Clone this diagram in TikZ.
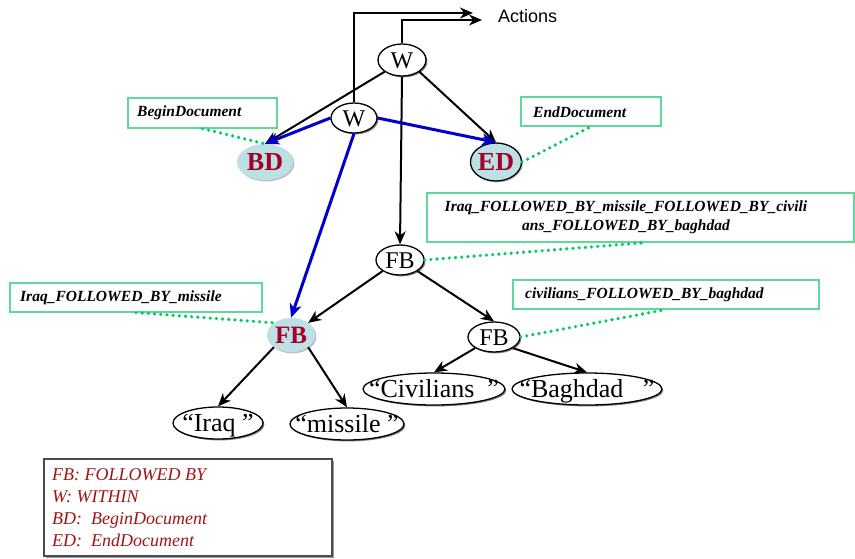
\documentclass[tikz,border=0pt]{standalone}
\usepackage{fontspec}
\setmainfont{Liberation Serif}
\newfontfamily\actfont{Liberation Sans}
\usetikzlibrary{shapes.geometric,arrows.meta,shadows,calc}
\definecolor{lblgreen}{HTML}{5FD99A}
\definecolor{dotgreen}{HTML}{00CC66}
\definecolor{tagfill}{HTML}{BCE0E3}
\definecolor{tagred}{HTML}{A3002B}
\definecolor{legred}{HTML}{A01515}
\definecolor{linkblue}{HTML}{0000CC}

\begin{document}
\begin{tikzpicture}[x=1pt,y=-1pt,
  % operator ellipses (W, FB)
  opnode/.style={ellipse, draw=black, line width=1.3pt, fill=white, inner sep=0pt,
    text height=16pt, text depth=0pt,
    font=\fontsize{24}{24}\selectfont,
    drop shadow={shadow xshift=1.4pt, shadow yshift=-1.4pt, fill=black!50, opacity=1}},
  % document markers and the highlighted FB
  tagnode/.style={ellipse, fill=tagfill, inner sep=0pt, text=tagred,
    text height=17pt, text depth=0pt,
    font=\fontsize{26}{26}\selectfont\bfseries,
    drop shadow={shadow xshift=1.4pt, shadow yshift=-1.4pt, fill=black!25, opacity=1}},
  % quoted terms
  termnode/.style={ellipse, draw=black, line width=1.3pt, fill=white, inner sep=0pt,
    text height=17pt, text depth=0pt,
    font=\fontsize{26}{26}\selectfont,
    drop shadow={shadow xshift=1.4pt, shadow yshift=-1.4pt, fill=black!50, opacity=1}},
  lbox/.style={rectangle, draw=lblgreen, line width=1.1pt, inner sep=0pt},
  ltext/.style={inner sep=0pt, font=\fontsize{15.5}{19}\selectfont\bfseries\itshape},
  arr/.style={draw=black, line width=2pt, -{Stealth[length=13pt,width=11pt,inset=4pt]}},
  barr/.style={draw=linkblue, line width=3pt, -{Stealth[length=14pt,width=12pt,inset=4pt]}},
  dotlink/.style={draw=dotgreen, line width=3.6pt, line cap=round, dash pattern=on 0pt off 6.2pt},
]
\useasboundingbox (0,0) rectangle (855,558);

% operators
\node[opnode, minimum width=48, minimum height=32] (wt) at (402,60) {W};
\node[opnode, minimum width=46, minimum height=30] (w2) at (354,118) {W};
\node[opnode, minimum width=48, minimum height=30] (fbm) at (400,260) {FB};
\node[opnode, minimum width=52, minimum height=30] (fbr) at (494,337) {FB};

% document markers
\node[tagnode, minimum width=56, minimum height=36] (bd) at (265,162) {BD};
\node[tagnode, draw=black, line width=1.3pt, minimum width=48, minimum height=38] (ed) at (496,162) {ED};
\node[tagnode, minimum width=48, minimum height=34, font=\fontsize{25}{25}\selectfont\bfseries] (fbl) at (291,335) {FB};

% terms
\node[termnode, minimum width=142, minimum height=32] (civ) at (434,389) {\makebox[0pt]{“Civilians\ \ ”}};
\node[termnode, minimum width=150, minimum height=32] (bag) at (587,389) {\makebox[0pt]{“Baghdad\ \ \ ”}};
\node[termnode, minimum width=90, minimum height=32] (iraq) at (218,423) {\makebox[0pt]{“Iraq\ ”}};
\node[termnode, minimum width=114, minimum height=32] (mis) at (347,424) {\makebox[0pt]{“missile\ ”}};

% actions output
\coordinate (a1) at (482,20);
\coordinate (a2) at (473,13);
\node[anchor=west, inner sep=0pt, font=\actfont\fontsize{18}{18}\selectfont] (act) at (498,16) {Actions};
\draw[arr, line width=1.5pt] (wt.north) |- (a1);
\draw[arr, line width=1.5pt] (w2.north) |- (a2);

% tree edges
\draw[arr] (wt.south west) -- (bd.north);
\draw[arr] (wt.south east) -- (ed.north);
\draw[arr] (wt.south) -- (fbm.north);
\draw[barr] (w2.west) -- (bd.north);
\draw[barr] (w2.east) -- (ed.north);
\draw[barr] (w2.south) -- (fbl.north);
\draw[arr] (fbm.south west) -- (fbl.north east);
\draw[arr] (fbm.south east) -- (fbr.north);
\draw[arr] (fbl.south west) -- (iraq.north);
\draw[arr] (fbl.south east) -- (mis.north);
\draw[arr] (fbr.south west) -- (civ.north);
\draw[arr] (fbr.south east) -- (bag.north);

% annotation boxes
\node[lbox, minimum width=149, minimum height=30] (bdbox) at (202.5,113) {};
\node[ltext, anchor=west] (bdtext) at (137,113) {BeginDocument};
\node[lbox, minimum width=140, minimum height=29] (edbox) at (591,111.5) {};
\node[ltext, anchor=west] (edtext) at (533,112) {EndDocument};
\node[lbox, minimum width=427, minimum height=49] (lqbox) at (640.5,217.5) {};
\node[ltext, align=center] (lqtext) at (626,217.5) {Iraq\_FOLLOWED\_BY\_missile\_FOLLOWED\_BY\_civili\\ans\_FOLLOWED\_BY\_baghdad};
\node[lbox, minimum width=252, minimum height=29] (iqbox) at (136,297.5) {};
\node[ltext, anchor=west] (iqtext) at (20,298) {Iraq\_FOLLOWED\_BY\_missile};
\node[lbox, minimum width=306, minimum height=29] (cvbox) at (666,294.5) {};
\node[ltext, anchor=west] (cvtext) at (525,295) {civilians\_FOLLOWED\_BY\_baghdad};

% dotted annotation links
\draw[dotlink] (bdbox.south) -- (bd.north);
\draw[dotlink] (ed.east) -- (edbox.south);
\draw[dotlink] (fbm.east) -- ($(lqbox.south)+(6,0)$);
\draw[dotlink] (iqbox.south) -- (fbl.north west);
\draw[dotlink] (fbr.east) -- (cvbox.south);

% legend
\node[rectangle, draw=black!70, line width=2.6pt, fill=white, minimum width=288, minimum height=97,
  drop shadow={shadow xshift=1.5pt, shadow yshift=-1.5pt, fill=black!40, opacity=1}] (legend) at (188,507.5) {};
\node[anchor=north west, inner sep=0pt, align=left, text=legred,
  font=\fontsize{18}{22}\selectfont\itshape] (legtext) at (52,468) {FB: FOLLOWED BY\\W: WITHIN\\BD:\ \ BeginDocument\\ED:\ \ EndDocument};
\end{tikzpicture}
\end{document}
